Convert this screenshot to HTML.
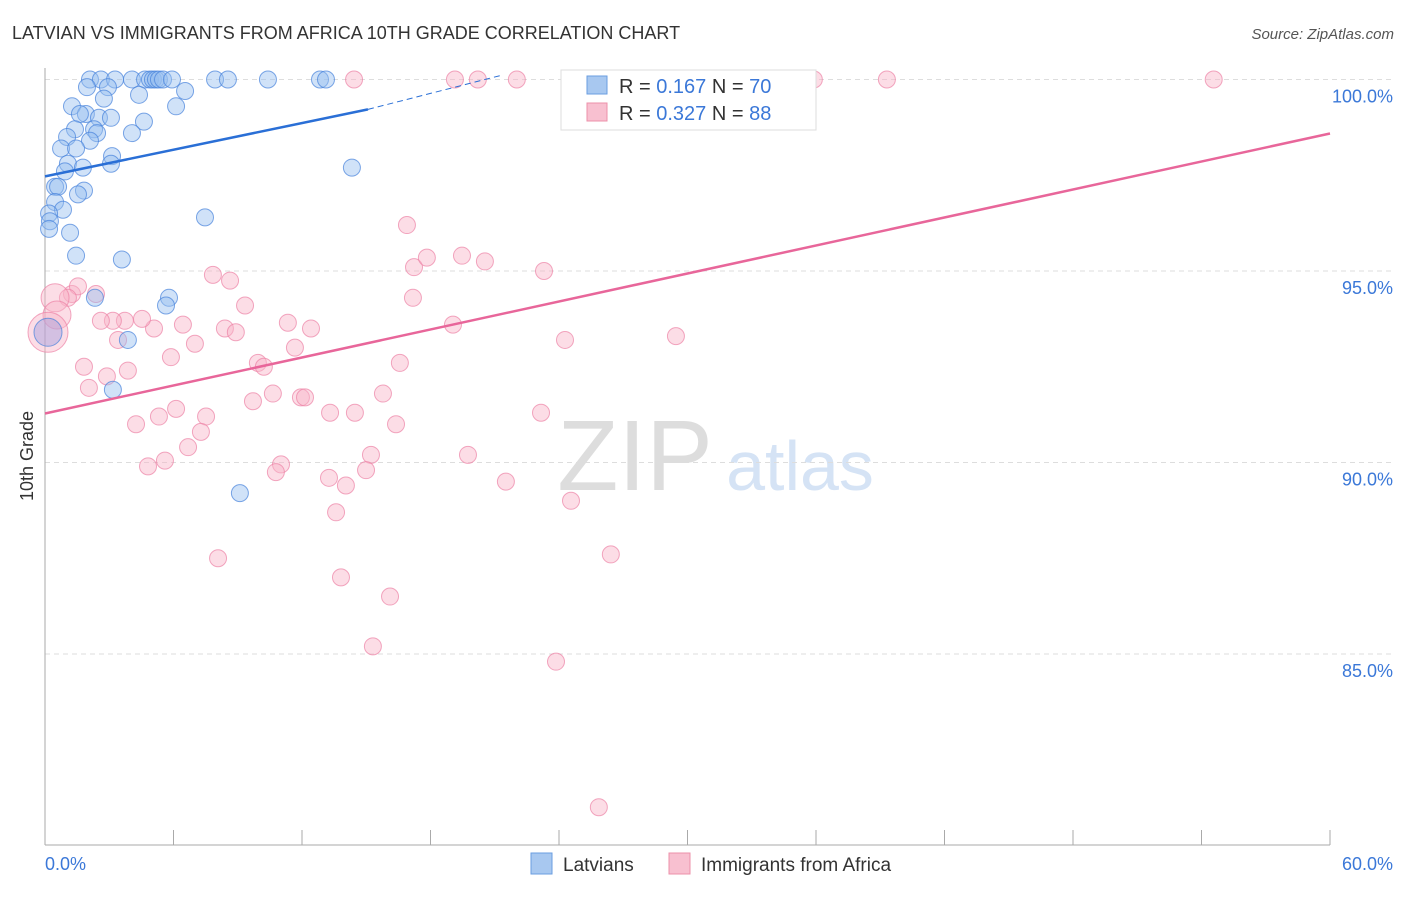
<!DOCTYPE html>
<html><head><meta charset="utf-8"><style>
body{margin:0;background:#fff;font-family:"Liberation Sans",sans-serif;}
svg text{font-family:"Liberation Sans",sans-serif;}
</style></head><body>
<svg id="chart" width="1406" height="892" xmlns="http://www.w3.org/2000/svg">
<text x="12" y="39" font-size="18" fill="#333">LATVIAN VS IMMIGRANTS FROM AFRICA 10TH GRADE CORRELATION CHART</text>
<text x="1394" y="39" font-size="15" fill="#555" text-anchor="end" font-style="italic">Source: ZipAtlas.com</text>
<text transform="translate(33,456) rotate(-90)" font-size="18" fill="#333" text-anchor="middle">10th Grade</text>
<g>
<text x="635" y="490" font-size="100" fill="#ddd" font-family="Liberation Serif" text-anchor="middle">ZIP</text>
<text x="800" y="490" font-size="70" fill="#d5e3f5" text-anchor="middle">atlas</text>
</g>
<g id="grid"></g><g id="axes"></g><g id="pts"></g><g id="lines"></g>
<g>
<rect x="561" y="70" width="255" height="60" fill="#fff" stroke="#ddd"/>
<rect x="587" y="76" width="20" height="18" fill="#a8c8f0" stroke="#6a9ee0"/>
<text x="619" y="93" font-size="20" fill="#333">R = <tspan fill="#3b78d8">0.167</tspan>   N = <tspan fill="#3b78d8">70</tspan></text>
<rect x="587" y="103" width="20" height="18" fill="#f8c0d0" stroke="#ec90aa"/>
<text x="619" y="120" font-size="20" fill="#333">R = <tspan fill="#3b78d8">0.327</tspan>   N = <tspan fill="#3b78d8">88</tspan></text>
</g>
<g>
<rect x="531" y="853" width="21" height="21" fill="#a8c8f0" stroke="#6a9ee0"/>
<text x="563" y="871" font-size="19" fill="#333">Latvians</text>
<rect x="669" y="853" width="21" height="21" fill="#f8c0d0" stroke="#ec90aa"/>
<text x="701" y="871" font-size="19" fill="#333">Immigrants from Africa</text>
</g>
</svg>
<script>
const yTicks=[100,95,90,85];
const xTickVals=[0,6,12,18,24,30,36,42,48,54,60];
const blueX=[2.10,2.61,3.27,4.06,4.67,4.90,5.04,5.18,5.32,5.51,5.93,7.94,8.54,10.41,12.84,13.12,1.96,2.94,4.39,6.54,2.75,1.26,6.12,1.91,1.63,2.52,3.08,4.62,2.29,2.43,2.10,1.40,1.03,4.06,0.75,1.45,3.13,1.07,3.08,14.33,0.93,1.77,0.47,0.61,1.82,1.54,0.47,0.84,0.19,0.23,0.19,1.17,7.47,1.45,3.59,5.79,5.65,2.33,3.87,3.17,9.10];
const blueY=[100,100,100,100,100,100,100,100,100,100,100,100,100,100,100,100,99.8,99.8,99.6,99.7,99.5,99.3,99.3,99.1,99.1,99.0,99.0,98.9,98.7,98.6,98.4,98.7,98.5,98.6,98.2,98.2,98.0,97.8,97.8,97.7,97.6,97.7,97.2,97.2,97.1,97.0,96.8,96.6,96.5,96.3,96.1,96.0,96.4,95.4,95.3,94.3,94.1,94.3,93.2,91.9,89.2];
const pinkX=[14.43,19.14,20.21,22.03,24.84,31.75,35.90,39.31,54.57,16.90,17.23,17.83,19.47,20.54,23.30,17.18,19.05,24.28,29.46,16.57,15.78,23.16,16.39,19.75,15.22,14.99,14.05,13.26,21.52,24.56,13.59,26.42,13.82,16.11,15.31,23.86,25.86,8.08,7.84,8.64,9.34,11.34,12.42,8.40,8.91,6.44,5.09,11.67,9.94,10.22,7.00,5.88,4.53,3.73,3.17,2.61,3.41,3.87,2.89,1.82,2.05,1.26,1.54,2.38,1.07,9.71,10.64,11.95,12.14,13.31,14.47,6.12,7.52,5.32,4.25,7.28,6.68,5.60,4.81,11.02,10.78];
const pinkY=[100,100,100,100,100,100,100,100,100,96.2,95.1,95.35,95.4,95.25,95.0,94.3,93.6,93.2,93.3,92.6,91.8,91.3,91.0,90.2,90.2,89.8,89.4,89.6,89.5,89.0,88.7,87.6,87.0,86.5,85.2,84.8,81.0,87.5,94.9,94.75,94.1,93.65,93.5,93.5,93.4,93.6,93.5,93.0,92.6,92.5,93.1,92.75,93.75,93.7,93.7,93.7,93.2,92.4,92.25,92.5,91.95,94.4,94.6,94.4,94.3,91.6,91.8,91.7,91.7,91.3,91.3,91.4,91.2,91.2,91.0,90.8,90.4,90.05,89.9,89.95,89.75];
const bigX=[0.47,0.56,0.14];
const bigY=[94.3,93.85,93.4];
const bigR=[14,14,20];
const blueLine=[0,97.47,15.08,99.22,21.24,100.1];
const pinkLine=[0,91.28,60,98.59];
const X=v=>45+v*1285/60;
const Y=v=>79.5+(100-v)*38.3;
const NS='http://www.w3.org/2000/svg';
function mk(tag,attrs,parent){const e=document.createElementNS(NS,tag);for(const k in attrs)e.setAttribute(k,attrs[k]);document.getElementById(parent).appendChild(e);return e;}
yTicks.forEach(t=>{
 const l=mk('line',{x1:45,x2:1394,y1:Y(t),y2:Y(t),stroke:'#ddd','stroke-dasharray':'5,4'},'grid');
 
 
 const tx=mk('text',{x:1393,y:Y(t)+23,'font-size':18,fill:'#3b78d8','text-anchor':'end'},'grid');
 tx.textContent=t.toFixed(1)+'%';
 
 
});
const ya=mk('line',{x1:45,x2:45,y1:68,y2:845,stroke:'#aaa'},'axes');


const xa=mk('line',{x1:45,x2:1330,y1:845,y2:845,stroke:'#aaa'},'axes');


xTickVals.forEach(t=>{
 const l=mk('line',{x1:X(t),x2:X(t),y1:830,y2:845,stroke:'#aaa'},'axes');
 
 
});
const xl0=mk('text',{x:45,y:870,'font-size':18,fill:'#3b78d8'},'axes');xl0.textContent=xTickVals[0].toFixed(1)+'%';


const xl1=mk('text',{x:1393,y:870,'font-size':18,fill:'#3b78d8','text-anchor':'end'},'axes');xl1.textContent=xTickVals[xTickVals.length-1].toFixed(1)+'%';


pinkX.forEach((v,i)=>{
 const c=mk('circle',{cx:X(v),cy:Y(pinkY[i]),r:8.5,fill:'rgba(248,180,200,0.45)',stroke:'rgba(236,130,165,0.7)'},'pts');
 
 
});
bigX.forEach((v,i)=>{
 const c=mk('circle',{cx:X(v),cy:Y(bigY[i]),r:bigR[i],fill:'rgba(248,180,200,0.45)',stroke:'rgba(236,130,165,0.7)'},'pts');
 
 
});
blueX.forEach((v,i)=>{
 const c=mk('circle',{cx:X(v),cy:Y(blueY[i]),r:8.5,fill:'rgba(150,190,240,0.45)',stroke:'rgba(70,130,220,0.7)'},'pts');
 
 
});
const bb=mk('circle',{cx:X(0.14),cy:Y(93.4),r:14,fill:'rgba(150,150,220,0.4)',stroke:'rgba(70,130,220,0.7)'},'pts');


const bl=mk('line',{x1:X(blueLine[0]),y1:Y(blueLine[1]),x2:X(blueLine[2]),y2:Y(blueLine[3]),stroke:'#2a6fd6','stroke-width':2.5},'lines');


const bd=mk('line',{x1:X(blueLine[2]),y1:Y(blueLine[3]),x2:X(blueLine[4]),y2:Y(blueLine[5]),stroke:'#2a6fd6','stroke-width':1,'stroke-dasharray':'6,4'},'lines');


const pl=mk('line',{x1:X(pinkLine[0]),y1:Y(pinkLine[1]),x2:X(pinkLine[2]),y2:Y(pinkLine[3]),stroke:'#e8669a','stroke-width':2.5},'lines');


</script>
</body></html>
